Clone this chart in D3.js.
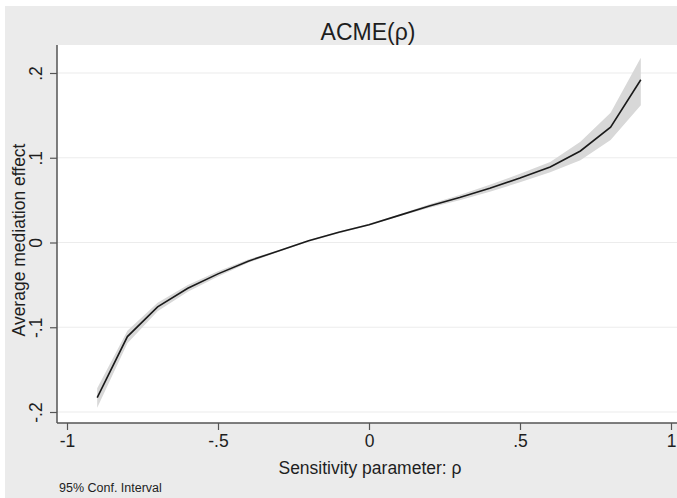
<!DOCTYPE html>
<html>
<head>
<meta charset="utf-8">
<script src="https://cdn.jsdelivr.net/npm/d3@7"></script>
<style>
  body { margin: 0; background: #fff; }
  text { font-family: "Liberation Sans", Arial, sans-serif; fill: #1e1e1e; }
</style>
</head>
<body>
<svg id="chart" width="677" height="498"></svg>
<script>
// data
var rho   = [-0.9, -0.8, -0.7, -0.6, -0.5, -0.4, -0.3, -0.2, -0.1, 0, 0.1, 0.2, 0.3, 0.4, 0.5, 0.6, 0.7, 0.8, 0.9];
var acme  = [-0.183, -0.111, -0.076, -0.054, -0.037, -0.022, -0.010, 0.002, 0.012, 0.021, 0.032, 0.043, 0.053, 0.064, 0.076, 0.089, 0.108, 0.136, 0.192];
var lower = [-0.195, -0.119, -0.081, -0.058, -0.040, -0.024, -0.011, 0.001, 0.011, 0.020, 0.031, 0.041, 0.050, 0.060, 0.071, 0.083, 0.097, 0.121, 0.162];
var upper = [-0.172, -0.104, -0.071, -0.050, -0.034, -0.020, -0.009, 0.003, 0.013, 0.022, 0.033, 0.045, 0.056, 0.068, 0.081, 0.095, 0.119, 0.153, 0.218];
var xTicks = [-1, -0.5, 0, 0.5, 1];
var yTicks = [-0.2, -0.1, 0, 0.1, 0.2];

var svg = d3.select("#chart");
var W = 677, H = 498;

// plot region
var plot = { left: 57, top: 45, right: 677, bottom: 423 };

var x = d3.scaleLinear().domain([-1, 1]).range([67, 671]);
var y = d3.scaleLinear().domain([-0.2, 0.2]).range([412, 73]);

// stata style labels: ".5", "-.1", "0"
function stataFmt(d) {
  if (d === 0) return "0";
  return String(d).replace("0.", ".");
}

// outer grey background
svg.append("rect")
  .attr("x", 5).attr("y", 6)
  .attr("width", W - 5).attr("height", H - 6)
  .attr("fill", "#ebebeb");

// inner white plot area
svg.append("rect")
  .attr("x", plot.left).attr("y", plot.top)
  .attr("width", plot.right - plot.left).attr("height", plot.bottom - plot.top)
  .attr("fill", "#ffffff");

// grid lines
svg.append("g").selectAll("line")
  .data(yTicks)
  .enter().append("line")
  .attr("x1", plot.left).attr("x2", plot.right)
  .attr("y1", function(d){ return y(d); })
  .attr("y2", function(d){ return y(d); })
  .attr("stroke", "#ececec")
  .attr("stroke-width", 1.2);

var rows = rho.map(function(r, i){
  return { r: r, m: acme[i], lo: lower[i], hi: upper[i] };
});

// confidence band
var band = d3.area()
  .x(function(d){ return x(d.r); })
  .y0(function(d){ return y(d.lo); })
  .y1(function(d){ return y(d.hi); });

svg.append("path")
  .datum(rows)
  .attr("d", band)
  .attr("fill", "#d8d8d8");

// point estimate line
var line = d3.line()
  .x(function(d){ return x(d.r); })
  .y(function(d){ return y(d.m); });

svg.append("path")
  .datum(rows)
  .attr("d", line)
  .attr("fill", "none")
  .attr("stroke", "#1a1a1a")
  .attr("stroke-width", 1.6);

// y axis
var yAxis = d3.axisLeft(y)
  .tickValues(yTicks)
  .tickSize(7)
  .tickFormat(stataFmt);

var gy = svg.append("g")
  .attr("transform", "translate(" + plot.left + ",0)")
  .call(yAxis);
gy.select(".domain").remove();
gy.selectAll(".tick line").attr("stroke", "#555").attr("stroke-width", 1.2);
gy.selectAll(".tick text")
  .attr("font-size", 17.5)
  .attr("x", null).attr("dy", null)
  .attr("text-anchor", "middle")
  .attr("transform", "translate(-15,0) rotate(-90)")
  .attr("y", 0);

svg.append("line")
  .attr("x1", plot.left).attr("x2", plot.left)
  .attr("y1", plot.top).attr("y2", plot.bottom)
  .attr("stroke", "#555").attr("stroke-width", 1.5);

// x axis
var xAxis = d3.axisBottom(x)
  .tickValues(xTicks)
  .tickSize(7)
  .tickPadding(5)
  .tickFormat(stataFmt);

var gx = svg.append("g")
  .attr("transform", "translate(0," + plot.bottom + ")")
  .call(xAxis);
gx.select(".domain").remove();
gx.selectAll(".tick line").attr("stroke", "#555").attr("stroke-width", 1.2);
gx.selectAll(".tick text").attr("font-size", 17.5);

svg.append("line")
  .attr("x1", plot.left).attr("x2", plot.right)
  .attr("y1", plot.bottom).attr("y2", plot.bottom)
  .attr("stroke", "#555").attr("stroke-width", 1.5);

// title
svg.append("text")
  .attr("x", 368).attr("y", 40)
  .attr("text-anchor", "middle")
  .attr("font-size", 23)
  .text("ACME(ρ)");

// axis titles
svg.append("text")
  .attr("x", 370).attr("y", 474)
  .attr("text-anchor", "middle")
  .attr("font-size", 17.5)
  .text("Sensitivity parameter: ρ");

svg.append("text")
  .attr("transform", "translate(25,240) rotate(-90)")
  .attr("text-anchor", "middle")
  .attr("font-size", 17.5)
  .text("Average mediation effect");

// note
svg.append("text")
  .attr("x", 59).attr("y", 492)
  .attr("font-size", 12.5)
  .text("95% Conf. Interval");
</script>
</body>
</html>
